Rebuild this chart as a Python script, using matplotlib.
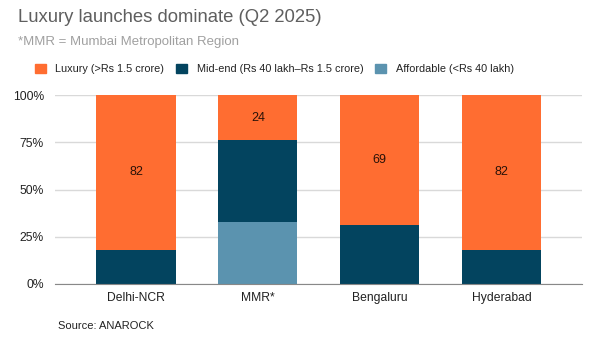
import matplotlib
matplotlib.use("Agg")
import matplotlib.pyplot as plt
from matplotlib.patches import Patch
import numpy as np

plt.rcParams['font.family'] = ['Liberation Sans', 'DejaVu Sans']

cities = ["Delhi-NCR", "MMR*", "Bengaluru", "Hyderabad"]
affordable = [0, 33, 0, 0]
mid_end = [18, 43, 31, 18]
luxury = [82, 24, 69, 82]
series_names = ["Luxury (>Rs 1.5 crore)", "Mid-end (Rs 40 lakh–Rs 1.5 crore)", "Affordable (<Rs 40 lakh)"]
yticks = [0, 25, 50, 75, 100]

c_lux = "#FF6D31"
c_mid = "#03445F"
c_aff = "#5B93AF"

fig = plt.figure(figsize=(6, 3.38), dpi=100)
ax = fig.add_axes([55/600, 1-284/338, (582-55)/600, (284-95)/338])

x = np.arange(len(cities))
w = 0.65
aff = np.array(affordable)
mid = np.array(mid_end)
lux = np.array(luxury)
ax.bar(x, aff, w, color=c_aff, zorder=3)
ax.bar(x, mid, w, bottom=aff, color=c_mid, zorder=3)
ax.bar(x, lux, w, bottom=aff+mid, color=c_lux, zorder=3)

for i in range(len(cities)):
    ax.text(x[i], aff[i]+mid[i]+lux[i]/2, str(lux[i]), ha='center', va='center',
            fontsize=9, color='#2a1208', zorder=4)

ax.set_xlim(-0.665, 3.66)
ax.set_ylim(0, 100)
ax.set_yticks(yticks)
ax.set_yticklabels([f"{v}%" for v in yticks], fontsize=8.7, color='#222222')
ax.set_xticks(x)
ax.set_xticklabels(cities, fontsize=8.7, color='#222222')
ax.tick_params(axis='both', length=0)
ax.tick_params(axis='y', pad=8)
ax.tick_params(axis='x', pad=6)
ax.grid(axis='y', color='#d9d9d9', linewidth=1, zorder=0)
for s in ['top', 'right', 'left']:
    ax.spines[s].set_visible(False)
ax.spines['bottom'].set_color('#888888')
ax.spines['bottom'].set_zorder(5)

fig.text(18/600, 1-17/338, "Luxury launches dominate (Q2 2025)", fontsize=13.3,
         color='#5f5f5f', va='center', ha='left')
fig.text(18/600, 1-42/338, "*MMR = Mumbai Metropolitan Region", fontsize=9.5,
         color='#a0a0a0', va='center', ha='left')
fig.text(58/600, 1-326/338, "Source: ANAROCK", fontsize=8, color='#222222',
         va='center', ha='left')

handles = [Patch(color=c_lux), Patch(color=c_mid), Patch(color=c_aff)]
fig.legend(handles, series_names, loc='center left', bbox_to_anchor=(25/600, 1-69/338),
           ncol=3, frameon=False, fontsize=7.8, handlelength=1.0, handleheight=1.0,
           handletextpad=0.9, columnspacing=1.1, labelcolor='#222222')

fig.savefig("out.png", dpi=100)
